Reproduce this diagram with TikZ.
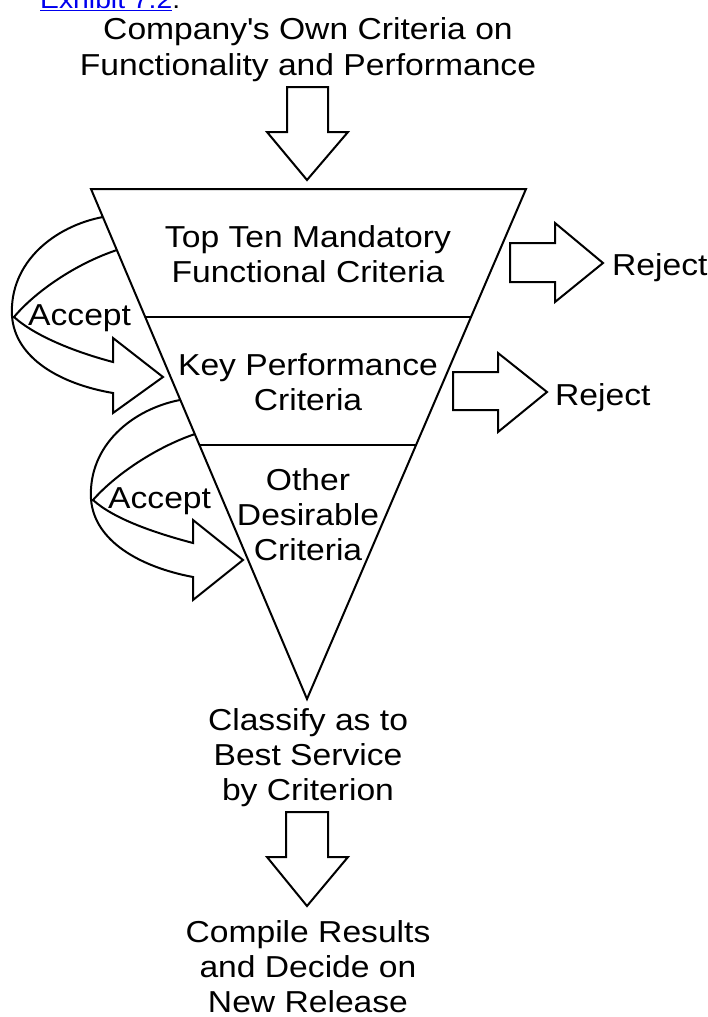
\documentclass[tikz,border=0pt]{standalone}
\usepackage{fontspec}
\setmainfont[FakeStretch=1.11]{Liberation Sans}
\usetikzlibrary{calc}
\definecolor{linkblue}{RGB}{0,0,238}
\begin{document}
\begin{tikzpicture}[x=1pt,y=-1pt,
  lbl/.style={inner sep=0pt,anchor=base,font=\fontsize{30.3}{35}\selectfont},
  line/.style={line width=2pt,line join=miter},
  blockarrow/.style={line width=2pt,line join=miter,fill=white}]
\useasboundingbox (0,0) rectangle (707,1017);
\clip (0,0) rectangle (707,1017);

% header link
\node[inner sep=0pt,anchor=base west,font=\fontsize{25.5}{28}\selectfont] (exh) at (40,9)
  {\textcolor{linkblue}{\underline{Exhibit 7.2}}.};

% top text
\node[lbl] (top1) at (308,39) {Company\textquotesingle s Own Criteria on};
\node[lbl] (top2) at (308,75) {Functionality and Performance};

% top block arrow
\draw[blockarrow] (287,87) -- (328,87) -- (328,132) -- (348,132) -- (307,180)
  -- (267,132) -- (287,132) -- cycle;

% funnel
\coordinate (TL) at (91,189);
\coordinate (TR) at (526,189);
\coordinate (B) at (307,699);
\draw[line] (TL) -- (TR) -- (B) -- cycle;
\coordinate (d1l) at (145.2,317);
\coordinate (d1r) at (471.0,317);
\coordinate (d2l) at (199.4,445);
\coordinate (d2r) at (416.1,445);
\draw[line] (d1l) -- (d1r);
\draw[line] (d2l) -- (d2r);

% funnel texts
\node[lbl] (s1a) at (308,247) {Top Ten Mandatory};
\node[lbl] (s1b) at (308,282) {Functional Criteria};
\node[lbl] (s2a) at (308,375) {Key Performance};
\node[lbl] (s2b) at (308,410) {Criteria};
\node[lbl] (s3a) at (308,490) {Other};
\node[lbl] (s3b) at (308,525) {Desirable};
\node[lbl] (s3c) at (308,560) {Criteria};

% reject arrows
\draw[blockarrow] (510,243) -- (555,243) -- (555,223) -- (603,263) -- (555,302)
  -- (555,282) -- (510,282) -- cycle;
\node[lbl,anchor=base west] (rej1) at (612,275) {Reject};
\draw[blockarrow] (453,372) -- (498,372) -- (498,353) -- (547,392) -- (498,432)
  -- (498,410) -- (453,410) -- cycle;
\node[lbl,anchor=base west] (rej2) at (555,405) {Reject};

% accept arrow 1
\draw[line] (103,217) .. controls (55,226) and (9,262) .. (12,316)
  .. controls (15,358) and (60,384) .. (113,393)
  -- (113,413) -- (163,377) -- (113,338) -- (113,362)
  .. controls (75,352) and (35,336) .. (14,317)
  .. controls (35,292) and (75,264) .. (117,250);
\node[lbl,anchor=base west] (acc1) at (28,325) {Accept};

% accept arrow 2
\draw[line] (180,400) .. controls (133,409) and (88,445) .. (91,499)
  .. controls (94,541) and (140,567) .. (193,577)
  -- (193,600) -- (243,560) -- (193,520) -- (193,543)
  .. controls (155,533) and (114,519) .. (93,500)
  .. controls (114,476) and (154,448) .. (195,434);
\node[lbl,anchor=base west] (acc2) at (108,508) {Accept};

% bottom texts
\node[lbl] (cl1) at (308,730) {Classify as to};
\node[lbl] (cl2) at (308,765) {Best Service};
\node[lbl] (cl3) at (308,800) {by Criterion};

\draw[blockarrow] (286,812) -- (328,812) -- (328,857) -- (348,857) -- (307,906)
  -- (267,857) -- (286,857) -- cycle;

\node[lbl] (co1) at (308,942) {Compile Results};
\node[lbl] (co2) at (308,977) {and Decide on};
\node[lbl] (co3) at (308,1012) {New Release};
\end{tikzpicture}
\end{document}
